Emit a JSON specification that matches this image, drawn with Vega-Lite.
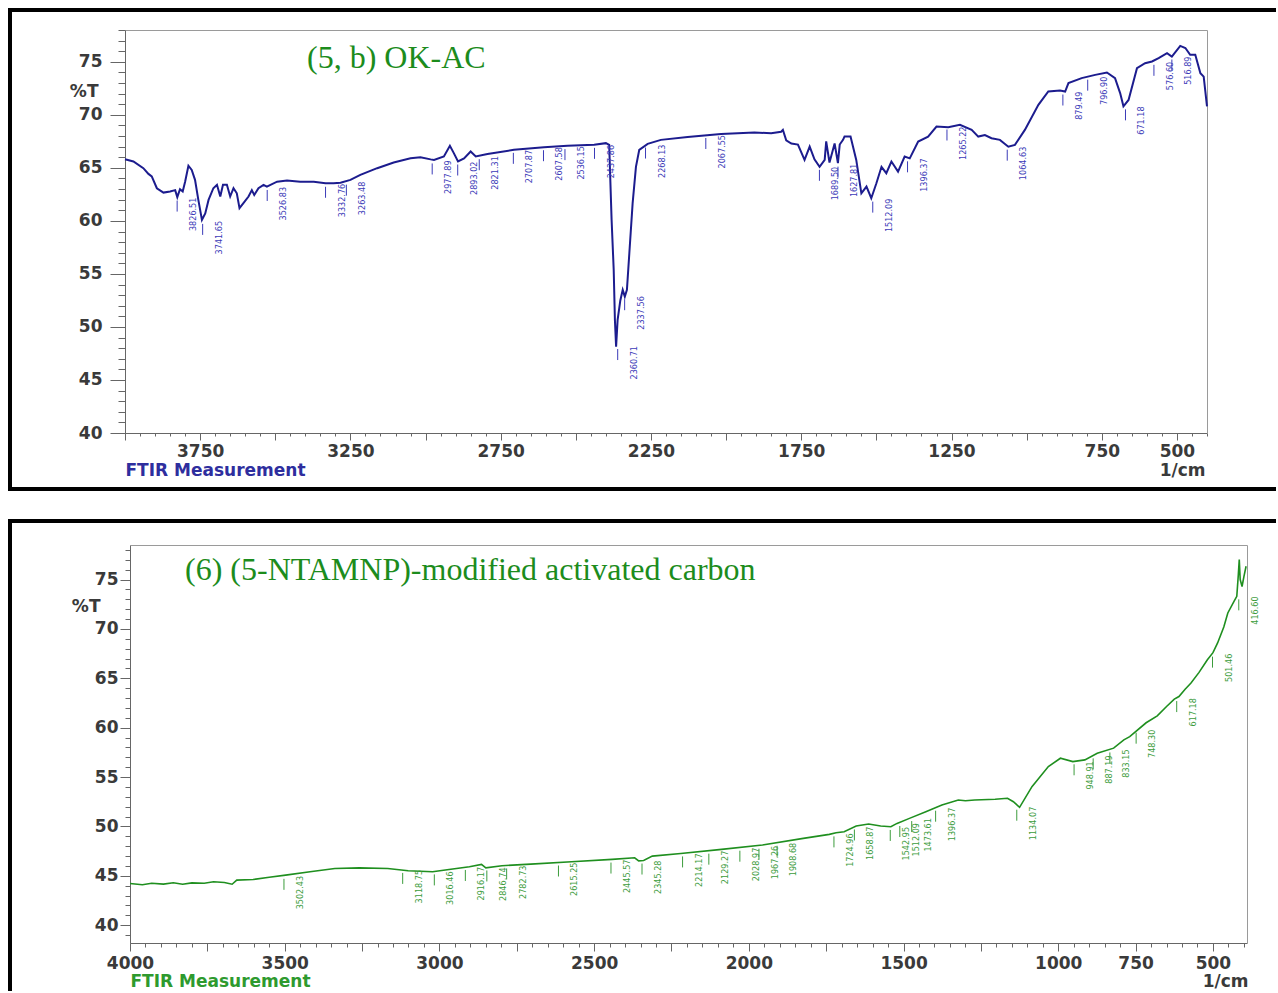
{
  "$schema": "https://vega.github.io/schema/vega-lite/v6.json",
  "padding": {"left": 8, "top": 8, "right": 0, "bottom": 0},
  "background": "white",
  "spacing": 28,
  "config": {
    "axis": {"grid": false, "labelFont": "DejaVu Sans", "labelFontSize": 17, "labelFontWeight": "bold", "labelColor": "#3a3a3a", "titleFont": "DejaVu Sans", "titleFontSize": 17, "titleFontWeight": "bold", "titleColor": "#3a3a3a", "tickColor": "#666666", "domainColor": "#666666", "labelFlush": false, "labelOverlap": false, "labelBound": false}
  },
  "datasets": {
    "ok": [
      {"wn": 4000, "T": 65.82}, {"wn": 3972, "T": 65.6}, {"wn": 3939, "T": 64.97}, {"wn": 3922, "T": 64.43}, {"wn": 3911, "T": 64.2}, {"wn": 3894, "T": 63.08}, {"wn": 3872, "T": 62.67}, {"wn": 3850, "T": 62.77}, {"wn": 3833, "T": 62.9}, {"wn": 3826, "T": 62.24}, {"wn": 3817, "T": 62.99}, {"wn": 3808, "T": 62.77}, {"wn": 3800, "T": 63.7}, {"wn": 3789, "T": 65.2}, {"wn": 3778, "T": 64.8}, {"wn": 3767, "T": 63.87}, {"wn": 3756, "T": 61.98}, {"wn": 3744, "T": 60.1}, {"wn": 3733, "T": 60.7}, {"wn": 3722, "T": 61.98}, {"wn": 3706, "T": 63.08}, {"wn": 3694, "T": 63.4}, {"wn": 3683, "T": 62.3}, {"wn": 3674, "T": 63.4}, {"wn": 3661, "T": 63.4}, {"wn": 3650, "T": 62.3}, {"wn": 3639, "T": 63.08}, {"wn": 3628, "T": 62.6}, {"wn": 3619, "T": 61.2}, {"wn": 3606, "T": 61.67}, {"wn": 3589, "T": 62.3}, {"wn": 3578, "T": 62.9}, {"wn": 3570, "T": 62.45}, {"wn": 3556, "T": 63.08}, {"wn": 3539, "T": 63.4}, {"wn": 3528, "T": 63.24}, {"wn": 3494, "T": 63.7}, {"wn": 3461, "T": 63.8}, {"wn": 3417, "T": 63.7}, {"wn": 3372, "T": 63.7}, {"wn": 3333, "T": 63.56}, {"wn": 3306, "T": 63.56}, {"wn": 3283, "T": 63.6}, {"wn": 3250, "T": 63.87}, {"wn": 3217, "T": 64.34}, {"wn": 3161, "T": 64.97}, {"wn": 3106, "T": 65.5}, {"wn": 3050, "T": 65.9}, {"wn": 3017, "T": 66.0}, {"wn": 2983, "T": 65.8}, {"wn": 2972, "T": 65.75}, {"wn": 2939, "T": 66.07}, {"wn": 2919, "T": 67.08}, {"wn": 2906, "T": 66.39}, {"wn": 2892, "T": 65.6}, {"wn": 2872, "T": 65.9}, {"wn": 2850, "T": 66.54}, {"wn": 2833, "T": 66.07}, {"wn": 2794, "T": 66.3}, {"wn": 2706, "T": 66.7}, {"wn": 2606, "T": 66.95}, {"wn": 2528, "T": 67.08}, {"wn": 2439, "T": 67.17}, {"wn": 2400, "T": 67.33}, {"wn": 2389, "T": 67.17}, {"wn": 2381, "T": 60.1}, {"wn": 2374, "T": 55.4}, {"wn": 2370, "T": 50.66}, {"wn": 2366, "T": 48.14}, {"wn": 2361, "T": 50.66}, {"wn": 2352, "T": 52.5}, {"wn": 2344, "T": 53.5}, {"wn": 2337, "T": 52.86}, {"wn": 2330, "T": 53.5}, {"wn": 2322, "T": 56.95}, {"wn": 2311, "T": 61.67}, {"wn": 2300, "T": 65.1}, {"wn": 2289, "T": 66.7}, {"wn": 2261, "T": 67.26}, {"wn": 2217, "T": 67.64}, {"wn": 2128, "T": 67.9}, {"wn": 2017, "T": 68.2}, {"wn": 1906, "T": 68.33}, {"wn": 1850, "T": 68.27}, {"wn": 1817, "T": 68.4}, {"wn": 1811, "T": 68.58}, {"wn": 1800, "T": 67.6}, {"wn": 1783, "T": 67.3}, {"wn": 1761, "T": 67.2}, {"wn": 1739, "T": 65.75}, {"wn": 1722, "T": 67.0}, {"wn": 1706, "T": 65.8}, {"wn": 1689, "T": 65.1}, {"wn": 1672, "T": 65.75}, {"wn": 1667, "T": 67.5}, {"wn": 1656, "T": 65.5}, {"wn": 1639, "T": 67.3}, {"wn": 1628, "T": 65.44}, {"wn": 1622, "T": 67.2}, {"wn": 1611, "T": 67.64}, {"wn": 1606, "T": 67.95}, {"wn": 1586, "T": 67.95}, {"wn": 1567, "T": 65.75}, {"wn": 1550, "T": 62.6}, {"wn": 1533, "T": 63.24}, {"wn": 1517, "T": 62.14}, {"wn": 1500, "T": 63.55}, {"wn": 1483, "T": 65.1}, {"wn": 1467, "T": 64.5}, {"wn": 1450, "T": 65.6}, {"wn": 1428, "T": 64.65}, {"wn": 1406, "T": 66.07}, {"wn": 1389, "T": 65.9}, {"wn": 1361, "T": 67.48}, {"wn": 1328, "T": 67.95}, {"wn": 1300, "T": 68.9}, {"wn": 1261, "T": 68.84}, {"wn": 1222, "T": 69.06}, {"wn": 1183, "T": 68.58}, {"wn": 1161, "T": 67.95}, {"wn": 1139, "T": 68.1}, {"wn": 1117, "T": 67.8}, {"wn": 1089, "T": 67.64}, {"wn": 1061, "T": 67.0}, {"wn": 1039, "T": 67.17}, {"wn": 1006, "T": 68.58}, {"wn": 961, "T": 70.94}, {"wn": 928, "T": 72.2}, {"wn": 889, "T": 72.3}, {"wn": 872, "T": 72.2}, {"wn": 861, "T": 72.99}, {"wn": 817, "T": 73.46}, {"wn": 772, "T": 73.77}, {"wn": 733, "T": 73.99}, {"wn": 706, "T": 73.46}, {"wn": 689, "T": 72.05}, {"wn": 678, "T": 70.8}, {"wn": 661, "T": 71.4}, {"wn": 633, "T": 74.4}, {"wn": 606, "T": 74.87}, {"wn": 583, "T": 75.03}, {"wn": 561, "T": 75.35}, {"wn": 533, "T": 75.82}, {"wn": 517, "T": 75.5}, {"wn": 489, "T": 76.5}, {"wn": 472, "T": 76.3}, {"wn": 456, "T": 75.66}, {"wn": 439, "T": 75.66}, {"wn": 422, "T": 73.93}, {"wn": 411, "T": 73.6}, {"wn": 400, "T": 70.8}
    ],
    "okp": [
      {"wn": 3826.51, "T": 62.2, "lab": "3826.51"}, {"wn": 3741.65, "T": 60.0, "lab": "3741.65"}, {"wn": 3526.83, "T": 63.2, "lab": "3526.83"}, {"wn": 3332.76, "T": 63.5, "lab": "3332.76"}, {"wn": 3263.48, "T": 63.7, "lab": "3263.48"}, {"wn": 2977.89, "T": 65.7, "lab": "2977.89"}, {"wn": 2893.02, "T": 65.6, "lab": "2893.02"}, {"wn": 2821.31, "T": 66.1, "lab": "2821.31"}, {"wn": 2707.87, "T": 66.7, "lab": "2707.87"}, {"wn": 2607.58, "T": 66.95, "lab": "2607.58"}, {"wn": 2536.15, "T": 67.05, "lab": "2536.15"}, {"wn": 2437.86, "T": 67.17, "lab": "2437.86"}, {"wn": 2360.71, "T": 48.2, "lab": "2360.71"}, {"wn": 2337.56, "T": 52.9, "lab": "2337.56"}, {"wn": 2268.13, "T": 67.2, "lab": "2268.13"}, {"wn": 2067.55, "T": 68.1, "lab": "2067.55"}, {"wn": 1689.5, "T": 65.1, "lab": "1689.50"}, {"wn": 1627.81, "T": 65.4, "lab": "1627.81"}, {"wn": 1512.09, "T": 62.1, "lab": "1512.09"}, {"wn": 1396.37, "T": 65.9, "lab": "1396.37"}, {"wn": 1265.22, "T": 68.9, "lab": "1265.22"}, {"wn": 1064.63, "T": 67.0, "lab": "1064.63"}, {"wn": 879.49, "T": 72.2, "lab": "879.49"}, {"wn": 796.9, "T": 73.6, "lab": "796.90"}, {"wn": 671.18, "T": 70.8, "lab": "671.18"}, {"wn": 576.6, "T": 75.0, "lab": "576.60"}, {"wn": 516.89, "T": 75.5, "lab": "516.89"}
    ],
    "nt": [
      {"wn": 4000, "T": 44.23}, {"wn": 3960, "T": 44.1}, {"wn": 3930, "T": 44.25}, {"wn": 3892, "T": 44.16}, {"wn": 3860, "T": 44.3}, {"wn": 3830, "T": 44.15}, {"wn": 3800, "T": 44.29}, {"wn": 3760, "T": 44.25}, {"wn": 3730, "T": 44.4}, {"wn": 3695, "T": 44.33}, {"wn": 3670, "T": 44.15}, {"wn": 3655, "T": 44.57}, {"wn": 3602, "T": 44.63}, {"wn": 3550, "T": 44.85}, {"wn": 3497, "T": 45.07}, {"wn": 3418, "T": 45.41}, {"wn": 3338, "T": 45.75}, {"wn": 3259, "T": 45.81}, {"wn": 3167, "T": 45.75}, {"wn": 3101, "T": 45.51}, {"wn": 3022, "T": 45.41}, {"wn": 2969, "T": 45.65}, {"wn": 2903, "T": 45.92}, {"wn": 2864, "T": 46.16}, {"wn": 2850, "T": 45.81}, {"wn": 2798, "T": 46.02}, {"wn": 2705, "T": 46.19}, {"wn": 2573, "T": 46.43}, {"wn": 2442, "T": 46.67}, {"wn": 2369, "T": 46.83}, {"wn": 2356, "T": 46.52}, {"wn": 2340, "T": 46.55}, {"wn": 2312, "T": 47.0}, {"wn": 2220, "T": 47.27}, {"wn": 2088, "T": 47.68}, {"wn": 1956, "T": 48.12}, {"wn": 1824, "T": 48.79}, {"wn": 1740, "T": 49.2}, {"wn": 1718, "T": 49.37}, {"wn": 1692, "T": 49.46}, {"wn": 1653, "T": 50.04}, {"wn": 1613, "T": 50.25}, {"wn": 1574, "T": 50.04}, {"wn": 1541, "T": 49.97}, {"wn": 1521, "T": 50.31}, {"wn": 1481, "T": 50.82}, {"wn": 1428, "T": 51.49}, {"wn": 1376, "T": 52.17}, {"wn": 1323, "T": 52.68}, {"wn": 1300, "T": 52.6}, {"wn": 1270, "T": 52.68}, {"wn": 1204, "T": 52.75}, {"wn": 1164, "T": 52.85}, {"wn": 1145, "T": 52.5}, {"wn": 1125, "T": 51.94}, {"wn": 1085, "T": 54.03}, {"wn": 1032, "T": 56.06}, {"wn": 993, "T": 56.91}, {"wn": 953, "T": 56.57}, {"wn": 914, "T": 56.74}, {"wn": 874, "T": 57.42}, {"wn": 821, "T": 57.93}, {"wn": 788, "T": 58.77}, {"wn": 769, "T": 59.1}, {"wn": 716, "T": 60.5}, {"wn": 680, "T": 61.2}, {"wn": 650, "T": 62.15}, {"wn": 625, "T": 62.9}, {"wn": 610, "T": 63.16}, {"wn": 590, "T": 63.9}, {"wn": 571, "T": 64.52}, {"wn": 545, "T": 65.6}, {"wn": 518, "T": 66.88}, {"wn": 500, "T": 67.6}, {"wn": 485, "T": 68.58}, {"wn": 465, "T": 70.2}, {"wn": 452, "T": 71.62}, {"wn": 432, "T": 72.8}, {"wn": 423, "T": 73.3}, {"wn": 418, "T": 75.5}, {"wn": 415, "T": 77.03}, {"wn": 412, "T": 75.0}, {"wn": 406, "T": 74.3}, {"wn": 400, "T": 75.3}, {"wn": 393, "T": 76.35}
    ],
    "ntp": [
      {"wn": 3502.43, "T": 45.0, "lab": "3502.43"}, {"wn": 3118.75, "T": 45.6, "lab": "3118.75"}, {"wn": 3016.46, "T": 45.45, "lab": "3016.46"}, {"wn": 2916.17, "T": 45.9, "lab": "2916.17"}, {"wn": 2846.74, "T": 45.85, "lab": "2846.74"}, {"wn": 2782.73, "T": 46.05, "lab": "2782.73"}, {"wn": 2615.25, "T": 46.35, "lab": "2615.25"}, {"wn": 2445.57, "T": 46.65, "lab": "2445.57"}, {"wn": 2345.28, "T": 46.55, "lab": "2345.28"}, {"wn": 2214.17, "T": 47.27, "lab": "2214.17"}, {"wn": 2129.27, "T": 47.55, "lab": "2129.27"}, {"wn": 2028.97, "T": 47.85, "lab": "2028.97"}, {"wn": 1967.26, "T": 48.05, "lab": "1967.26"}, {"wn": 1908.68, "T": 48.35, "lab": "1908.68"}, {"wn": 1724.96, "T": 49.3, "lab": "1724.96"}, {"wn": 1658.87, "T": 50.0, "lab": "1658.87"}, {"wn": 1542.95, "T": 49.95, "lab": "1542.95"}, {"wn": 1512.09, "T": 50.35, "lab": "1512.09"}, {"wn": 1473.61, "T": 50.85, "lab": "1473.61"}, {"wn": 1396.37, "T": 51.9, "lab": "1396.37"}, {"wn": 1134.07, "T": 52.0, "lab": "1134.07"}, {"wn": 948.91, "T": 56.6, "lab": "948.91"}, {"wn": 887.19, "T": 57.2, "lab": "887.19"}, {"wn": 833.15, "T": 57.8, "lab": "833.15"}, {"wn": 748.3, "T": 59.8, "lab": "748.30"}, {"wn": 617.18, "T": 63.0, "lab": "617.18"}, {"wn": 501.46, "T": 67.5, "lab": "501.46"}, {"wn": 416.6, "T": 73.3, "lab": "416.60"}
    ]
  },
  "vconcat": [
    {
      "width": 1266,
      "height": 479,
      "view": {"stroke": "#000000", "strokeWidth": 4, "strokeDash": [1266, 479, 1745]},
      "title": {"text": "(5, b) OK-AC", "orient": "top", "anchor": "start", "frame": "group", "offset": -90, "dx": 297, "baseline": "alphabetic", "font": "Liberation Serif", "fontSize": 32, "fontWeight": "normal", "color": "#1c8c1c"},
      "resolve": {"axis": {"x": "independent", "y": "independent"}},
      "layer": [
        {
          "data": {"name": "ok"},
          "mark": {"type": "line", "color": "#1c1c8e", "strokeWidth": 2},
          "encoding": {
            "x": {"field": "wn", "type": "quantitative",
              "scale": {"domain": [4000, 400], "range": [115, 1197], "nice": false, "zero": false},
              "axis": {"orient": "bottom", "offset": -56, "values": [500, 750, 1000, 1250, 1500, 1750, 2000, 2250, 2500, 2750, 3000, 3250, 3500, 3750, 4000], "tickSize": 7, "labelPadding": 3, "format": "d",
                "labelExpr": "indexof([3750, 3250, 2750, 2250, 1750, 1250, 750, 500], datum.value) >= 0 ? datum.label : ''",
                "title": "FTIR Measurement", "titleX": 115, "titleY": 37, "titleAlign": "left", "titleBaseline": "middle", "titleColor": "#2e2e9e"}},
            "y": {"field": "T", "type": "quantitative",
              "scale": {"domain": [40, 78], "range": [423, 20], "nice": false, "zero": false},
              "axis": {"orient": "left", "offset": -115, "values": [40, 45, 50, 55, 60, 65, 70, 75], "tickSize": 15, "labelPadding": 8, "title": null}}
          }
        },
        {
          "data": {"name": "okp"},
          "mark": {"type": "rule", "color": "#3b3bb8", "strokeWidth": 1, "yOffset": 3, "y2Offset": 14},
          "encoding": {
            "x": {"field": "wn", "type": "quantitative",
              "axis": {"orient": "bottom", "offset": -56, "values": [400, 450, 500, 550, 600, 650, 700, 750, 800, 850, 900, 950, 1000, 1050, 1100, 1150, 1200, 1250, 1300, 1350, 1400, 1450, 1500, 1550, 1600, 1650, 1700, 1750, 1800, 1850, 1900, 1950, 2000, 2050, 2100, 2150, 2200, 2250, 2300, 2350, 2400, 2450, 2500, 2550, 2600, 2650, 2700, 2750, 2800, 2850, 2900, 2950, 3000, 3050, 3100, 3150, 3200, 3250, 3300, 3350, 3400, 3450, 3500, 3550, 3600, 3650, 3700, 3750, 3800, 3850, 3900, 3950, 4000], "tickSize": 3, "labels": false, "domain": false,
                "title": "1/cm", "titleX": 1195, "titleY": 37, "titleAlign": "right", "titleBaseline": "middle"}},
            "y": {"field": "T", "type": "quantitative",
              "axis": {"orient": "left", "offset": -115, "values": [40, 41, 42, 43, 44, 45, 46, 47, 48, 49, 50, 51, 52, 53, 54, 55, 56, 57, 58, 59, 60, 61, 62, 63, 64, 65, 66, 67, 68, 69, 70, 71, 72, 73, 74, 75, 76, 77, 78], "tickSize": 7, "labels": false, "domain": false,
                "title": "%T", "titleAngle": 0, "titleX": -27, "titleY": 81, "titleAlign": "right", "titleBaseline": "middle"}},
            "y2": {"field": "T"}
          }
        },
        {
          "data": {"name": "okp"},
          "mark": {"type": "text", "angle": 270, "align": "right", "baseline": "middle", "dy": 16, "font": "Liberation Sans Narrow, DejaVu Sans Condensed, Liberation Sans, sans-serif", "fontSize": 9, "color": "#3b3bb8"},
          "encoding": {
            "x": {"field": "wn", "type": "quantitative", "axis": {"orient": "top", "offset": -20, "ticks": false, "labels": false, "domainColor": "#9a9a9a", "title": null}},
            "y": {"field": "T", "type": "quantitative", "axis": {"orient": "right", "offset": -69, "ticks": false, "labels": false, "domainColor": "#9a9a9a", "title": null}},
            "text": {"field": "lab"}
          }
        }
      ]
    },
    {
      "width": 1266,
      "height": 470,
      "view": {"stroke": "#000000", "strokeWidth": 4, "strokeDash": [1266, 1736, 470]},
      "title": {"text": "(6) (5-NTAMNP)-modified activated carbon", "orient": "top", "anchor": "start", "frame": "group", "offset": -91, "dx": 175, "baseline": "alphabetic", "font": "Liberation Serif", "fontSize": 32, "fontWeight": "normal", "color": "#1c8c1c"},
      "resolve": {"axis": {"x": "independent", "y": "independent"}},
      "layer": [
        {
          "data": {"name": "nt"},
          "mark": {"type": "line", "color": "#1f8f1f", "strokeWidth": 1.6},
          "encoding": {
            "x": {"field": "wn", "type": "quantitative",
              "scale": {"domain": [4000, 390], "range": [120, 1237], "nice": false, "zero": false},
              "axis": {"orient": "bottom", "offset": -48, "values": [500, 750, 1000, 1250, 1500, 1750, 2000, 2250, 2500, 2750, 3000, 3250, 3500, 3750, 4000], "tickSize": 8, "labelPadding": 4, "format": "d",
                "labelExpr": "indexof([4000, 3500, 3000, 2500, 2000, 1500, 1000, 750, 500], datum.value) >= 0 ? datum.label : ''",
                "title": "FTIR Measurement", "titleX": 120, "titleY": 38, "titleAlign": "left", "titleBaseline": "middle", "titleColor": "#2e9a2e"}},
            "y": {"field": "T", "type": "quantitative",
              "scale": {"domain": [38.2, 78.5], "range": [422, 24], "nice": false, "zero": false},
              "axis": {"orient": "left", "offset": -120, "values": [40, 45, 50, 55, 60, 65, 70, 75], "tickSize": 10, "labelPadding": 2, "title": null}}
          }
        },
        {
          "data": {"name": "ntp"},
          "mark": {"type": "rule", "color": "#3c9c3c", "strokeWidth": 1, "yOffset": 3, "y2Offset": 14},
          "encoding": {
            "x": {"field": "wn", "type": "quantitative",
              "axis": {"orient": "bottom", "offset": -48, "values": [400, 450, 500, 550, 600, 650, 700, 750, 800, 850, 900, 950, 1000, 1050, 1100, 1150, 1200, 1250, 1300, 1350, 1400, 1450, 1500, 1550, 1600, 1650, 1700, 1750, 1800, 1850, 1900, 1950, 2000, 2050, 2100, 2150, 2200, 2250, 2300, 2350, 2400, 2450, 2500, 2550, 2600, 2650, 2700, 2750, 2800, 2850, 2900, 2950, 3000, 3050, 3100, 3150, 3200, 3250, 3300, 3350, 3400, 3450, 3500, 3550, 3600, 3650, 3700, 3750, 3800, 3850, 3900, 3950, 4000], "tickSize": 4, "labels": false, "domain": false,
                "title": "1/cm", "titleX": 1238, "titleY": 38, "titleAlign": "right", "titleBaseline": "middle"}},
            "y": {"field": "T", "type": "quantitative",
              "axis": {"orient": "left", "offset": -120, "values": [39, 40, 41, 42, 43, 44, 45, 46, 47, 48, 49, 50, 51, 52, 53, 54, 55, 56, 57, 58, 59, 60, 61, 62, 63, 64, 65, 66, 67, 68, 69, 70, 71, 72, 73, 74, 75, 76, 77, 78], "tickSize": 5, "labels": false, "domain": false,
                "title": "%T", "titleAngle": 0, "titleX": -30, "titleY": 85, "titleAlign": "right", "titleBaseline": "middle"}},
            "y2": {"field": "T"}
          }
        },
        {
          "data": {"name": "ntp"},
          "mark": {"type": "text", "angle": 270, "align": "right", "baseline": "middle", "dy": 16, "font": "Liberation Sans Narrow, DejaVu Sans Condensed, Liberation Sans, sans-serif", "fontSize": 9, "color": "#3c9c3c"},
          "encoding": {
            "x": {"field": "wn", "type": "quantitative", "axis": {"orient": "top", "offset": -24, "ticks": false, "labels": false, "domainColor": "#9a9a9a", "title": null}},
            "y": {"field": "T", "type": "quantitative", "axis": {"orient": "right", "offset": -29, "ticks": false, "labels": false, "domainColor": "#9a9a9a", "title": null}},
            "text": {"field": "lab"}
          }
        }
      ]
    }
  ]
}
